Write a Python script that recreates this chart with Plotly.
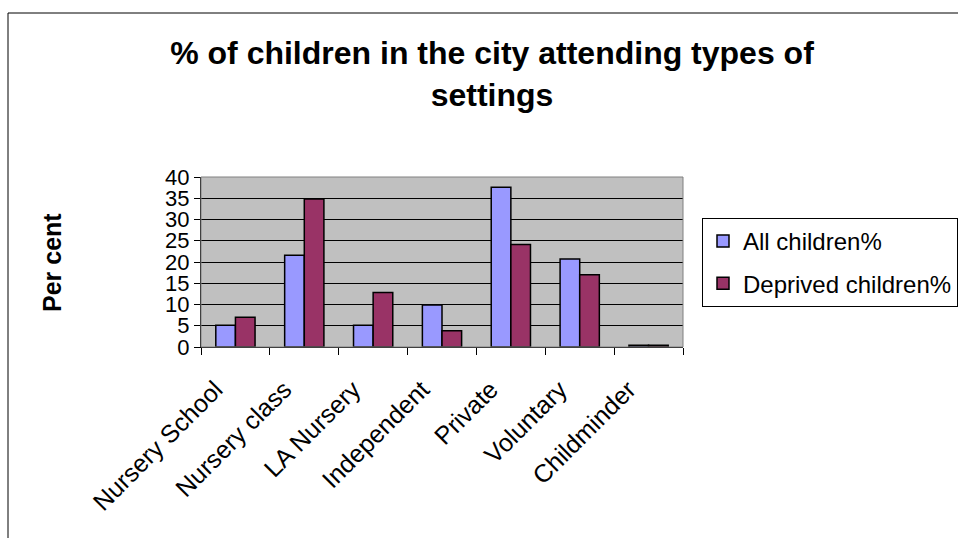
import plotly.graph_objects as go

# Setting types and share of children attending each (%)
categories = ["Nursery School", "Nursery class", "LA Nursery", "Independent",
              "Private", "Voluntary", "Childminder"]
all_children = [5.1, 21.6, 5.1, 9.9, 37.6, 20.7, 0.4]
deprived_children = [7.0, 34.8, 12.8, 3.8, 24.1, 17.0, 0.4]
y_ticks = [0, 5, 10, 15, 20, 25, 30, 35, 40]

W, H = 958, 538
L, R, T, B = 201, 683, 177, 347  # plot area edges in pixels
FONT = "Liberation Sans, Arial, sans-serif"


def px_x(x):
    return (x - L) / (R - L)


def px_y(y):
    return (B - y) / (B - T)


fig = go.Figure()
fig.add_trace(go.Bar(
    x=categories, y=all_children, name="All children%",
    marker=dict(color="#9999FF", line=dict(color="black", width=1.5)),
    legendgroup="a",
))
fig.add_trace(go.Bar(
    x=categories, y=deprived_children, name="Deprived children%",
    marker=dict(color="#993366", line=dict(color="black", width=1.5)),
    legendgroup="b",
))

shapes = [
    # plot area frame
    dict(type="rect", xref="paper", yref="paper", x0=0, x1=1, y0=0, y1=1,
         line=dict(color="#808080", width=1), layer="above"),
    # outer chart frame (top and left edges)
    dict(type="line", xref="paper", yref="paper",
         x0=px_x(8), x1=px_x(W + 5), y0=px_y(13), y1=px_y(13),
         line=dict(color="black", width=1)),
    dict(type="line", xref="paper", yref="paper",
         x0=px_x(8), x1=px_x(8), y0=px_y(13), y1=px_y(H + 5),
         line=dict(color="black", width=1)),
]

fig.update_layout(
    width=W, height=H,
    margin=dict(l=L, r=W - R, t=T, b=H - B, pad=0, autoexpand=False),
    paper_bgcolor="white",
    plot_bgcolor="#C0C0C0",
    font=dict(family=FONT, color="black"),
    barmode="group",
    bargap=0.43,
    bargroupgap=0.0,
    title=dict(
        text="<b>% of children in the city attending types of<br>settings</b>",
        font=dict(family=FONT, size=32, color="black"),
        x=492 / W, xref="container", xanchor="center",
        y=1 - 64 / H, yref="container", yanchor="top",
    ),
    xaxis=dict(
        showgrid=False, ticks="outside", tickson="boundaries", ticklen=7,
        tickcolor="black", tickangle=-45, tickfont=dict(size=25, family=FONT),
        ticklabelstandoff=17, ticklabelshift=-20,
        showline=True, linecolor="black", linewidth=1,
    ),
    yaxis=dict(
        range=[0, 40], tickvals=y_ticks, showgrid=True, gridcolor="black",
        gridwidth=1, ticks="outside", ticklen=6, tickcolor="black",
        tickfont=dict(size=22, family=FONT), showline=True,
        linecolor="black", linewidth=1, zeroline=False,
    ),
    legend=dict(
        x=px_x(702), y=px_y(218), xanchor="left", yanchor="top",
        bgcolor="white", bordercolor="black", borderwidth=1,
        font=dict(size=24, family=FONT), tracegroupgap=8,
        traceorder="grouped", itemwidth=30,
    ),
    annotations=[dict(
        text="<b>Per cent</b>", textangle=-90, showarrow=False,
        xref="paper", yref="paper", x=px_x(52), y=px_y(263),
        xanchor="center", yanchor="middle",
        font=dict(size=25, family=FONT, color="black"),
    )],
    shapes=shapes,
    showlegend=True,
)

fig.write_html("out.html")
